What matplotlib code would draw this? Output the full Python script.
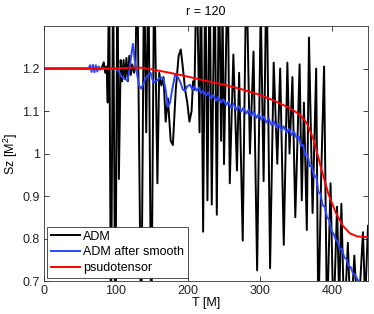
import numpy as np
import matplotlib
matplotlib.use("Agg")
import matplotlib.pyplot as plt

plt.rcParams['font.family'] = ['Liberation Sans', 'DejaVu Sans']
plt.rcParams['mathtext.default'] = 'regular'

adm_t = [0, 80, 83, 85, 87, 88.5, 90.5, 93, 96, 99, 102, 104, 106.5, 108.5, 110.5, 112.5,
         114.5, 116.5, 118.5, 120.5, 122.5, 125, 127, 129.5, 135, 139, 142, 145, 149, 153,
         157.5, 160, 163, 166, 169, 172, 176, 179, 183, 187, 190, 193, 196, 199, 202, 205,
         207, 209, 212, 216, 218, 221, 224, 227, 230, 233, 237, 240, 243, 246, 248, 250,
         255, 258, 263, 268, 271, 276, 281, 286, 291, 296, 301, 305, 309, 314, 319, 324,
         328, 333, 338, 341, 345, 349, 355, 358, 361, 365, 368, 373, 378, 381, 385, 389,
         393, 398, 402, 407, 410, 413, 417, 422, 426, 431, 436, 443, 446, 450]
adm_sz = [1.2, 1.2, 1.215, 1.19, 1.205, 1.12, 1.45, 0.55, 1.45, 0.55, 1.45, 0.94, 1.22, 1.17,
          1.22, 1.175, 1.225, 1.17, 1.23, 1.185, 1.21, 1.19, 1.205, 1.45, 0.55, 1.45, 1.05,
          1.45, 0.55, 1.45, 0.93, 1.19, 1.16, 1.18, 1.075, 1.13, 1.03, 1.02, 1.15, 1.23, 1.245,
          1.2, 1.15, 1.12, 1.075, 1.1, 1.17, 1.15, 1.45, 1.05, 1.45, 0.816, 1.45, 0.89, 1.45,
          0.88, 1.45, 0.856, 1.45, 1.03, 1.35, 0.975, 1.45, 0.93, 1.233, 0.96, 1.19, 0.795,
          1.45, 1.0, 1.24, 0.725, 1.35, 0.935, 1.45, 0.73, 1.214, 0.976, 1.2, 0.785, 1.214,
          1.0, 1.18, 0.85, 1.21, 0.89, 1.12, 0.82, 1.273, 0.86, 1.2, 0.6, 0.95, 1.205, 0.6,
          0.93, 0.6, 0.875, 0.65, 0.882, 0.6, 0.79, 0.6, 0.76, 0.6, 0.815, 0.65, 0.83]

# ADM after smoothing
smooth_t = [0, 62, 64, 66, 68, 70, 72, 74, 76, 78, 80, 100, 104, 108, 112, 116, 119, 121.5,
            123.5, 126, 129, 132, 135, 139, 143, 148, 152, 157, 162, 166, 169, 172, 175, 178,
            182, 186, 190, 193, 196, 199, 203, 206, 209, 212, 215, 218, 221, 225, 228, 232,
            235, 239, 242, 246, 249, 253, 256, 260, 263, 267, 270, 274, 277, 281, 284, 288,
            291, 295, 298, 302, 305, 309, 312, 316, 319, 323, 326, 330, 333, 337, 340, 344,
            347, 351, 354, 357, 360, 363, 366, 369, 372, 375, 378, 381, 384, 387, 390, 393,
            396, 399, 402, 405, 408, 411, 414, 417, 420, 423, 426, 429, 432, 436, 440, 450]
smooth_sz = [1.2, 1.2, 1.208, 1.192, 1.209, 1.191, 1.208, 1.193, 1.205, 1.197, 1.2, 1.199,
             1.193, 1.18, 1.176, 1.172, 1.2, 1.235, 1.258, 1.22, 1.19, 1.16, 1.153, 1.168,
             1.182, 1.19, 1.167, 1.172, 1.18, 1.176, 1.15, 1.11, 1.12, 1.15, 1.185, 1.18,
             1.165, 1.15, 1.148, 1.158, 1.162, 1.15, 1.158, 1.148, 1.155, 1.142, 1.148, 1.136,
             1.144, 1.13, 1.138, 1.124, 1.133, 1.12, 1.128, 1.114, 1.122, 1.108, 1.117, 1.103,
             1.112, 1.099, 1.108, 1.094, 1.103, 1.089, 1.098, 1.084, 1.093, 1.079, 1.088,
             1.073, 1.082, 1.067, 1.076, 1.061, 1.07, 1.055, 1.064, 1.049, 1.058, 1.044, 1.052,
             1.036, 1.04, 1.018, 1.02, 0.995, 0.998, 0.97, 0.972, 0.945, 0.948, 0.91, 0.905,
             0.878, 0.875, 0.85, 0.845, 0.82, 0.812, 0.798, 0.792, 0.775, 0.775, 0.755, 0.752,
             0.735, 0.733, 0.718, 0.715, 0.702, 0.69, 0.67]

# pseudotensor
pseudo_t = [0, 80, 100, 120, 135, 150, 175, 200, 225, 250, 275, 300, 320, 340, 355, 365,
            375, 385, 395, 405, 415, 425, 435, 450]
pseudo_sz = [1.2, 1.2, 1.2005, 1.202, 1.202, 1.198, 1.19, 1.181, 1.171, 1.162, 1.151, 1.138,
             1.124, 1.108, 1.092, 1.072, 1.03, 0.965, 0.905, 0.862, 0.83, 0.812, 0.805, 0.803]

fig = plt.figure(figsize=(3.74, 3.14), dpi=100)
ax = fig.add_axes([0.1176, 0.105, 0.8664, 0.812])

ax.plot(adm_t, adm_sz, color='black', lw=1.4, label='ADM')
ax.plot(smooth_t, smooth_sz, color='#2a45ff', lw=1.4, label='ADM after smooth')
ax.plot(pseudo_t, pseudo_sz, color='#ff0000', lw=1.4, label='psudotensor')

ax.set_xlim(0, 450)
ax.set_ylim(0.7, 1.3)
ax.set_xticks([0, 100, 200, 300, 400])
ax.set_yticks([0.7, 0.8, 0.9, 1.0, 1.1, 1.2])
ax.set_yticklabels(['0.7', '0.8', '0.9', '1', '1.1', '1.2'])
ax.tick_params(direction='in', top=True, right=True, length=3.5, width=0.6,
               labelsize=9, pad=3, colors='#222222')
for s in ax.spines.values():
    s.set_linewidth(0.6)
    s.set_color('#333333')

ax.set_title('r = 120', fontsize=9, pad=8)
ax.set_xlabel('T [M]', fontsize=9, labelpad=0)
ax.set_ylabel('Sz [M$^2$]', fontsize=9, labelpad=2)

leg = ax.legend(loc='lower left', fontsize=9, fancybox=False, framealpha=1,
                edgecolor='#333333', borderaxespad=0.25, handlelength=2.3,
                handletextpad=0.3, labelspacing=0.3, borderpad=0.3)
leg.get_frame().set_linewidth(0.6)

fig.savefig('out.png', dpi=100)
